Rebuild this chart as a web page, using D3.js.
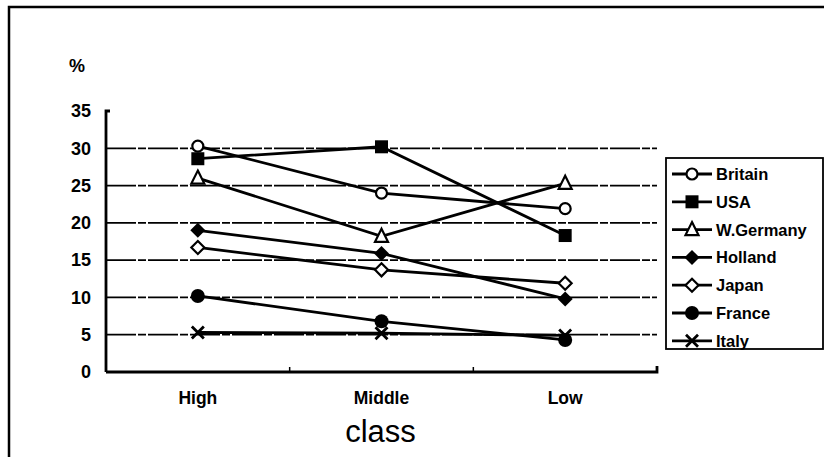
<!DOCTYPE html>
<html lang="en">
<head>
  <meta charset="UTF-8">
  <title>Class by country</title>
  <script src="https://d3js.org/d3.v7.min.js"></script>
  <style>
    body { margin: 0; background: #fff; }
    svg { display: block; font-family: "Liberation Sans", Arial, sans-serif; }
    .tick text { font-weight: bold; font-size: 18px; fill: #000; }
  </style>
</head>
<body>
  <div id="chart"></div>
  <script>
    // Data
    const classes = ['High', 'Middle', 'Low'];
    const countries = ['Britain', 'USA', 'W.Germany', 'Holland', 'Japan', 'France', 'Italy'];
    const britain = [30.3, 24.0, 21.9];
    const usa = [28.6, 30.2, 18.3];
    const wGermany = [26.0, 18.2, 25.3];
    const holland = [19.0, 15.9, 9.8];
    const japan = [16.7, 13.7, 11.9];
    const france = [10.2, 6.8, 4.3];
    const italy = [5.3, 5.2, 4.9];
    const yTicks = [0, 5, 10, 15, 20, 25, 30, 35];

    const seriesValues = [britain, usa, wGermany, holland, japan, france, italy];
    const markers = ['circleOpen', 'square', 'triangleOpen', 'diamond', 'diamondOpen', 'circle', 'cross'];
    const series = countries.map((name, i) => ({ name, values: seriesValues[i], marker: markers[i] }));

    const W = 824, H = 457;
    const margin = { left: 106, top: 111, right: 167, bottom: 85 };

    const svg = d3.select('#chart').append('svg')
      .attr('width', W).attr('height', H);

    // frame (only top and left edges show in the scan)
    svg.append('path')
      .attr('d', `M9,${H} L9,7 L${W},7`)
      .attr('fill', 'none').attr('stroke', '#000').attr('stroke-width', 2.5);

    const x = d3.scaleBand().domain(classes)
      .range([margin.left, W - margin.right]);
    const y = d3.scaleLinear().domain([0, 35])
      .range([H - margin.bottom, margin.top]);

    // grid lines
    svg.append('g').selectAll('line')
      .data(yTicks.filter(t => t > 0 && t < 35))
      .join('line')
      .attr('x1', x.range()[0]).attr('x2', x.range()[1])
      .attr('y1', d => y(d)).attr('y2', d => y(d))
      .attr('stroke', '#000').attr('stroke-width', 1.8)
      .attr('stroke-dasharray', '30,2,8,2');

    // y axis
    const yAxis = svg.append('g')
      .attr('transform', `translate(${margin.left},0)`)
      .call(d3.axisLeft(y).tickValues(yTicks).tickSize(0).tickPadding(15));
    yAxis.select('.domain').attr('stroke-width', 2.8)
      .attr('d', `M4,${y(35)}H0V${y(0)}`);

    // x axis with band boundary ticks
    const xAxis = svg.append('g')
      .attr('transform', `translate(0,${y(0)})`)
      .call(d3.axisBottom(x).tickSize(0).tickPadding(20));
    xAxis.select('.domain').attr('stroke-width', 2.8)
      .attr('d', `M${x.range()[0]},0H${x.range()[1]}V-6`);
    xAxis.selectAll('.tick text').style('font-size', '17.5px');
    xAxis.append('g').selectAll('line')
      .data(classes.slice(1))
      .join('line')
      .attr('x1', d => x(d)).attr('x2', d => x(d))
      .attr('y1', 0).attr('y2', -5)
      .attr('stroke', '#000').attr('stroke-width', 1.5);

    // labels
    svg.append('text')
      .attr('x', 69).attr('y', 72)
      .attr('font-size', 18).attr('font-weight', 'bold')
      .text('%');
    svg.append('text')
      .attr('x', x('Middle') + x.bandwidth() / 2 - 1).attr('y', 442)
      .attr('text-anchor', 'middle')
      .attr('font-size', 31)
      .text('class');

    function drawMarker(g, type) {
      const sw = 2.2;
      switch (type) {
        case 'circleOpen':
          g.append('circle').attr('r', 5.5).attr('fill', '#fff').attr('stroke', '#000').attr('stroke-width', sw);
          break;
        case 'square':
          g.append('rect').attr('x', -6.5).attr('y', -6.5).attr('width', 13).attr('height', 13).attr('fill', '#000');
          break;
        case 'triangleOpen':
          g.append('path').attr('d', 'M0,-7.5L6.5,5.5L-6.5,5.5Z').attr('fill', '#fff').attr('stroke', '#000').attr('stroke-width', sw);
          break;
        case 'diamond':
          g.append('path').attr('d', 'M0,-7.5L7.5,0L0,7.5L-7.5,0Z').attr('fill', '#000');
          break;
        case 'diamondOpen':
          g.append('path').attr('d', 'M0,-6.5L6.5,0L0,6.5L-6.5,0Z').attr('fill', '#fff').attr('stroke', '#000').attr('stroke-width', sw);
          break;
        case 'circle':
          g.append('circle').attr('r', 7).attr('fill', '#000');
          break;
        case 'cross':
          g.append('path').attr('d', 'M-6,-6L6,6M-6,6L6,-6').attr('stroke', '#000').attr('stroke-width', 2.8);
          break;
      }
    }

    const cx = c => x(c) + x.bandwidth() / 2;
    const line = d3.line().x((d, i) => cx(classes[i])).y(d => y(d));

    // lines
    svg.append('g').selectAll('path')
      .data(series)
      .join('path')
      .attr('d', d => line(d.values))
      .attr('fill', 'none').attr('stroke', '#000').attr('stroke-width', 2.8);

    // markers
    series.forEach(s => {
      s.values.forEach((v, i) => {
        const g = svg.append('g').attr('transform', `translate(${cx(classes[i])},${y(v)})`);
        drawMarker(g, s.marker);
      });
    });

    // legend
    const legend = svg.append('g').attr('transform', 'translate(666,158)');
    legend.append('rect')
      .attr('width', 157).attr('height', 191)
      .attr('fill', '#fff').attr('stroke', '#000').attr('stroke-width', 1.8);
    const item = legend.selectAll('.item')
      .data(series)
      .join('g')
      .attr('class', 'item')
      .attr('transform', (d, i) => `translate(0,${16 + i * 27.8})`);
    item.append('line')
      .attr('x1', 6).attr('x2', 46)
      .attr('stroke', '#000').attr('stroke-width', 2.8);
    item.each(function(d) {
      drawMarker(d3.select(this).append('g').attr('transform', 'translate(26,0)'), d.marker);
    });
    item.append('text')
      .attr('x', 50).attr('dy', '0.36em')
      .attr('font-size', 16.5).attr('font-weight', 'bold')
      .text(d => d.name);
  </script>
</body>
</html>
